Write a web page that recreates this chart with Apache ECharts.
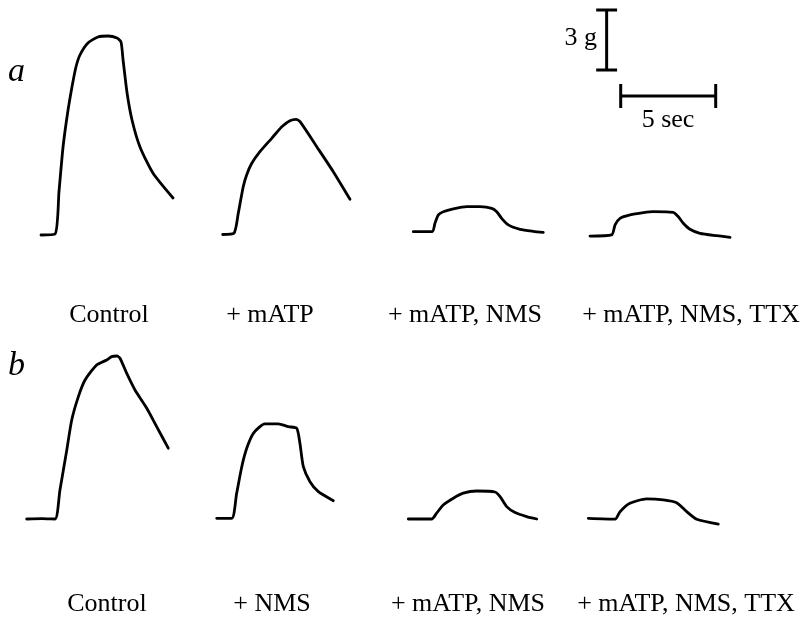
<!DOCTYPE html>
<html>
<head>
<meta charset="utf-8">
<script src="https://cdn.jsdelivr.net/npm/echarts@6/dist/echarts.min.js"></script>
<style>html,body{margin:0;padding:0;background:#fff;}#c{width:809px;height:619px;}</style>
</head>
<body>
<div id="c"></div>
<script>
// Traces: [time (s), force (g) relative to baseline]
const traceA1 = [[0,0],[0.74,0.05],[0.95,2.2],[1.16,4.4],[1.4,6.1],[1.63,7.4],[1.84,8.4],[2.05,9.0],[2.47,9.6],[3.0,9.9],[3.53,9.95],[4.0,9.85],[4.21,9.65],[4.32,8.75],[4.53,7.1],[4.79,5.75],[5.21,4.4],[5.89,3.1],[6.95,1.85]];
const traceA2 = [[0,0],[0.59,0.06],[0.82,1.06],[1.08,2.39],[1.26,2.98],[1.53,3.56],[1.96,4.14],[2.58,4.81],[3.11,5.39],[3.54,5.69],[3.86,5.76],[4.07,5.64],[4.95,4.39],[5.82,3.14],[6.7,1.76]];
const traceA3 = [[0,0],[1.0,0],[1.14,0.42],[1.32,0.84],[1.58,1.0],[2.11,1.14],[2.81,1.25],[3.51,1.25],[4.13,1.17],[4.39,1.0],[4.65,0.67],[5.0,0.34],[5.62,0.12],[6.32,0.02],[6.84,-0.03]];
const traceA4 = [[0,-0.03],[1.14,0.03],[1.32,0.53],[1.58,0.86],[2.11,1.03],[2.81,1.14],[3.33,1.19],[4.38,1.16],[4.65,0.94],[4.91,0.61],[5.26,0.31],[5.79,0.11],[6.67,-0.01],[7.37,-0.09]];
const traceB1 = [[0,0],[0.8,0.02],[1.49,0],[1.75,1.45],[2.11,3.45],[2.37,4.95],[2.72,6.12],[3.07,6.95],[3.68,7.7],[4.21,7.95],[4.47,8.12],[4.74,8.15],[4.91,8.04],[5.26,7.29],[5.7,6.45],[6.32,5.54],[6.84,4.62],[7.45,3.54]];
const traceB2 = [[0,0],[0.79,0],[1.05,1.25],[1.32,2.58],[1.58,3.5],[1.93,4.25],[2.54,4.72],[3.24,4.72],[3.77,4.58],[4.21,4.5],[4.38,3.75],[4.56,2.58],[4.91,1.83],[5.35,1.33],[6.14,0.88]];
const traceB3 = [[0,0],[1.23,0],[1.49,0.29],[1.84,0.7],[2.37,1.04],[2.89,1.29],[3.6,1.4],[4.56,1.35],[4.83,1.12],[5.18,0.62],[5.62,0.32],[6.23,0.12],[6.76,0]];
const traceB4 = [[0,0.01],[1.41,-0.03],[1.67,0.34],[2.19,0.76],[3.07,0.98],[3.95,0.93],[4.65,0.79],[5.18,0.34],[5.71,-0.04],[6.84,-0.28]];

const labelsA = ['Control', '+ mATP', '+ mATP, NMS', '+ mATP, NMS, TTX'];
const labelsB = ['Control', '+ NMS', '+ mATP, NMS', '+ mATP, NMS, TTX'];
const panelLetters = ['a', 'b'];
const scaleSeconds = 5;
const scaleGrams = 3;
const scaleTimeLabel = '5 sec';
const scaleForceLabel = '3 g';

// layout (pixel scale: 19 px per second, 20 px per gram)
const PX_S = 19, PX_G = 20;
const traces = [traceA1, traceA2, traceA3, traceA4, traceB1, traceB2, traceB3, traceB4];
const origins = [[41,235],[222.7,234.5],[413.3,231.7],[590,235.5],[26.7,519],[216.7,518.3],[408.3,519],[588.3,518.5]];

const grids = [], xAxes = [], yAxes = [], series = [];
function addGrid(ox, oy, xmin, xmax, ymin, ymax) {
  const i = grids.length;
  grids.push({left: ox + xmin*PX_S, top: oy - ymax*PX_G, width: (xmax-xmin)*PX_S, height: (ymax-ymin)*PX_G, show:false});
  xAxes.push({gridIndex:i, type:'value', min:xmin, max:xmax, show:false});
  yAxes.push({gridIndex:i, type:'value', min:ymin, max:ymax, show:false});
  return i;
}
traces.forEach((d, k) => {
  const i = addGrid(origins[k][0], origins[k][1], -1, 8, -1, 10.5);
  series.push({type:'line', xAxisIndex:i, yAxisIndex:i, data:d, smooth:0.22, showSymbol:false, symbol:'none',
    lineStyle:{color:'#000', width:2.8, cap:'round', join:'round'}, silent:true, animation:false});
});

// scale bars
const sbi = addGrid(620.7, 96, -2, 6, -1, 4.5);
const capT = 0.6, capG = 0.55;
const vx = -0.74, vy0 = 1.3;
const barSegs = [
  [[0,0],[scaleSeconds,0]],
  [[0,-capT],[0,capT]],
  [[scaleSeconds,-capT],[scaleSeconds,capT]],
  [[vx,vy0],[vx,vy0+scaleGrams]],
  [[vx-capG,vy0],[vx+capG,vy0]],
  [[vx-capG,vy0+scaleGrams],[vx+capG,vy0+scaleGrams]]
];
barSegs.forEach(s => series.push({type:'line', xAxisIndex:sbi, yAxisIndex:sbi, data:s, showSymbol:false, symbol:'none',
  lineStyle:{color:'#000', width:3, cap:'butt'}, silent:true, animation:false}));

const font = '"Liberation Serif", "Times New Roman", serif';
const graphic = [];
const xA = [109, 270, 465, 691], xB = [107, 272, 468, 686];
labelsA.forEach((t, i) => graphic.push({type:'text', x:xA[i], y:315, style:{text:t, fill:'#000', font:'26px ' + font, align:'center', verticalAlign:'middle'}}));
labelsB.forEach((t, i) => graphic.push({type:'text', x:xB[i], y:604, style:{text:t, fill:'#000', font:'26px ' + font, align:'center', verticalAlign:'middle'}}));
graphic.push({type:'text', x:8, y:72, style:{text:panelLetters[0], fill:'#000', font:'italic 34px ' + font, align:'left', verticalAlign:'middle'}});
graphic.push({type:'text', x:8, y:366, style:{text:panelLetters[1], fill:'#000', font:'italic 34px ' + font, align:'left', verticalAlign:'middle'}});
graphic.push({type:'text', x:597, y:38, style:{text:scaleForceLabel, fill:'#000', font:'26px ' + font, align:'right', verticalAlign:'middle'}});
graphic.push({type:'text', x:668, y:120, style:{text:scaleTimeLabel, fill:'#000', font:'26px ' + font, align:'center', verticalAlign:'middle'}});

const chart = echarts.init(document.getElementById('c'), null, {renderer:'canvas'});
chart.setOption({animation:false, backgroundColor:'#fff', grid:grids, xAxis:xAxes, yAxis:yAxes, series:series, graphic:graphic});
</script>
</body>
</html>
